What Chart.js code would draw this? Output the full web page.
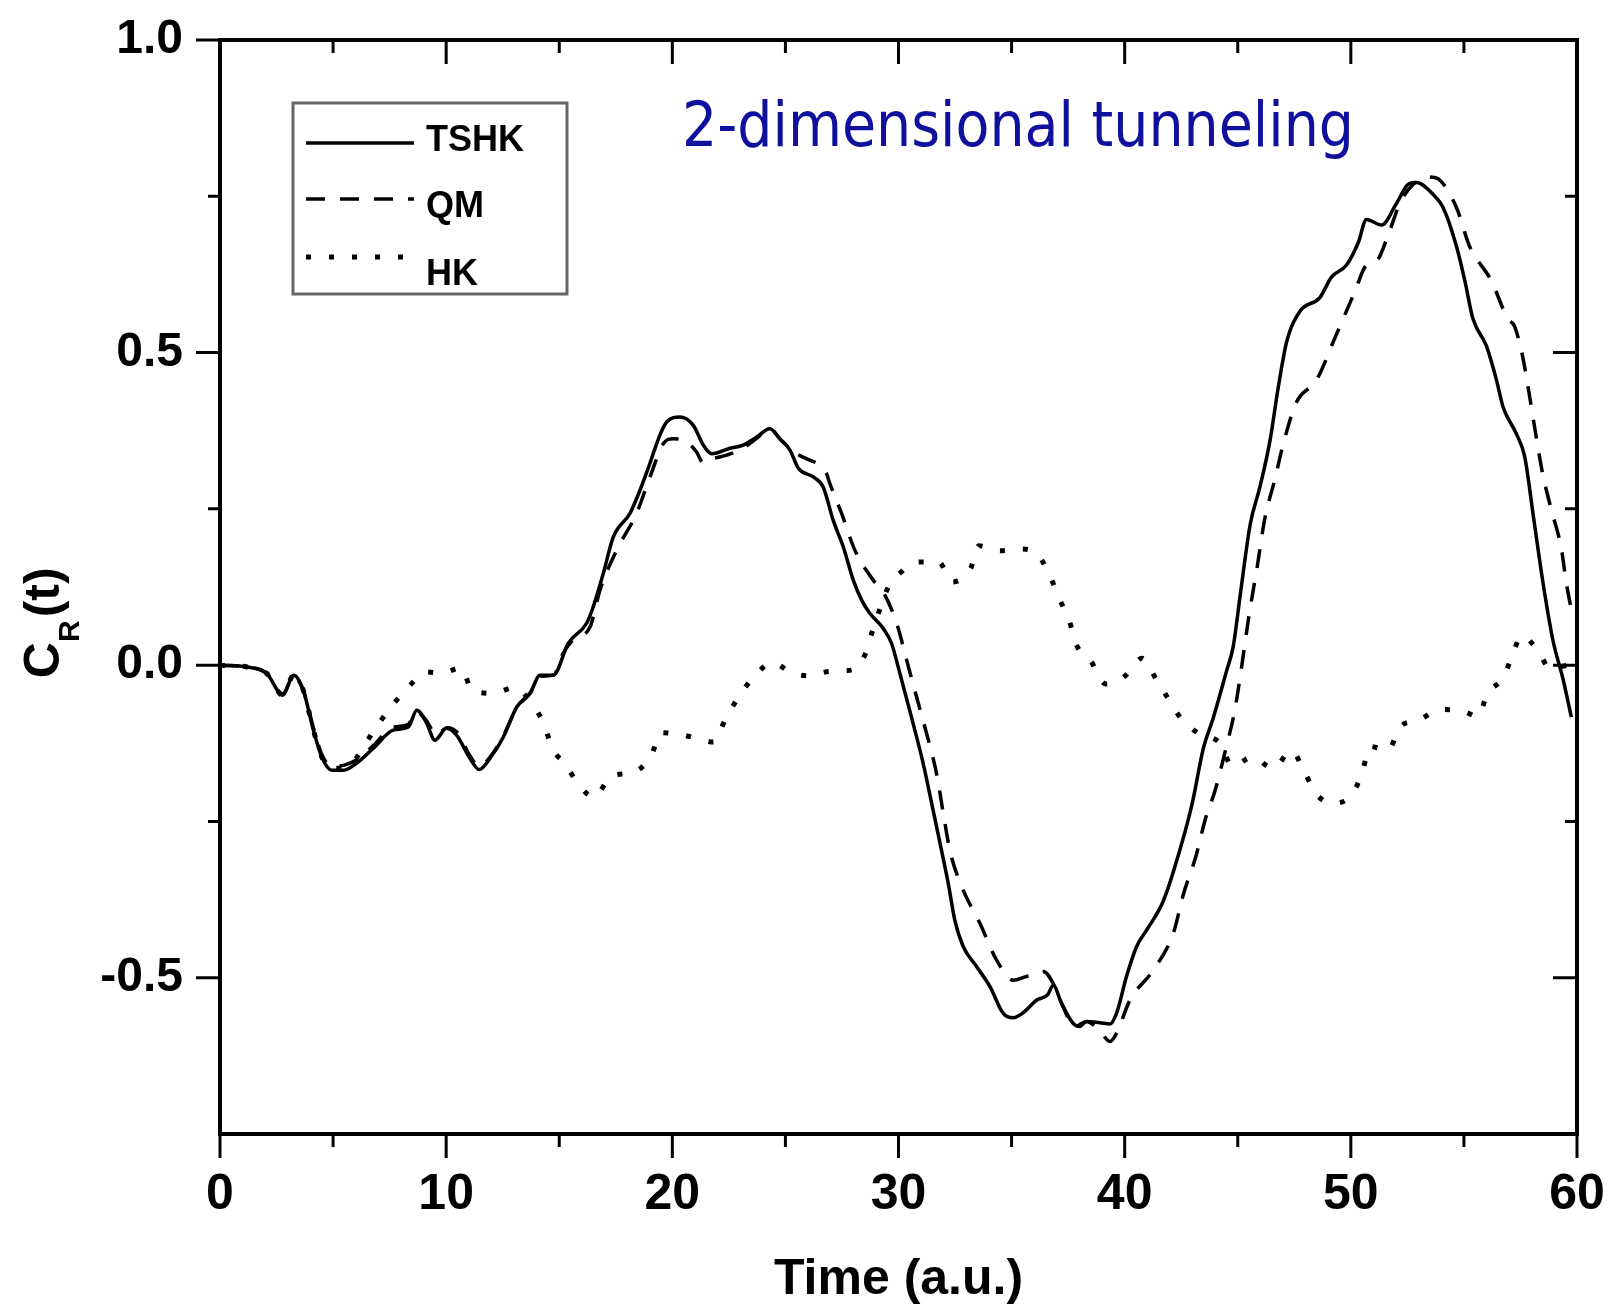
<!DOCTYPE html>
<html><head><meta charset="utf-8">
<script src="https://cdn.jsdelivr.net/npm/chart.js@4"></script>
<style>html,body{margin:0;padding:0;background:#fff}canvas{display:block}</style>
</head><body>
<canvas id="c" width="1614" height="1311" style="width:1614px;height:1311px"></canvas>
<script>
// ---------- data ----------
const seriesNames = ['TSHK', 'QM', 'HK'];

const tshkT = [0,1.2,2.06,2.77,3.26,3.68,4.13,4.5,4.94,5.45,6.04,6.78,7.66,8.33,8.7,9.14,9.5,10.02,10.46,11.05,11.46,11.94,12.53,13.12,13.71,14.15,14.74,15.4,16.21,16.5,16.95,17.39,18.13,18.57,19.01,19.45,19.75,20.34,20.92,21.37,21.74,22.55,23.13,23.73,24.31,24.76,25.2,25.57,26.23,26.67,27.11,27.56,28.0,28.37,28.73,29.32,29.69,30.06,30.55,31.09,31.53,31.9,32.2,32.49,32.86,33.45,34.04,34.63,35.07,35.51,36.1,36.6,36.84,37.21,37.72,38.0,38.31,38.9,39.35,39.64,40.08,40.53,40.97,41.7,42.2,42.97,43.48,43.92,44.5,44.8,45.12,45.55,45.98,46.42,46.79,47.16,47.75,48.63,49.15,49.81,50.33,50.69,51.36,52.01,52.53,52.9,53.64,54.08,54.67,55.04,55.4,55.99,56.44,56.73,57.32,57.69,58.06,58.5,58.94,59.38,59.75];
const tshkV = [0,-0.003,-0.013,-0.048,-0.016,-0.04,-0.104,-0.147,-0.168,-0.168,-0.157,-0.133,-0.104,-0.099,-0.072,-0.093,-0.12,-0.101,-0.112,-0.149,-0.167,-0.149,-0.115,-0.067,-0.045,-0.016,-0.016,0.035,0.067,0.093,0.147,0.205,0.243,0.28,0.323,0.368,0.389,0.397,0.384,0.352,0.338,0.347,0.352,0.365,0.378,0.362,0.344,0.315,0.301,0.285,0.232,0.189,0.136,0.104,0.083,0.059,0.035,-0.013,-0.08,-0.157,-0.232,-0.296,-0.349,-0.408,-0.45,-0.482,-0.514,-0.557,-0.564,-0.556,-0.536,-0.527,-0.512,-0.541,-0.573,-0.578,-0.57,-0.572,-0.574,-0.557,-0.498,-0.45,-0.424,-0.378,-0.325,-0.224,-0.133,-0.084,-0.01,0.03,0.115,0.225,0.285,0.358,0.444,0.517,0.566,0.588,0.621,0.64,0.676,0.713,0.704,0.738,0.769,0.772,0.753,0.732,0.67,0.615,0.554,0.511,0.456,0.413,0.37,0.333,0.241,0.131,0.039,-0.022,-0.083];

const qmT = [0,1.2,2.06,2.77,3.26,3.68,4.13,4.5,4.94,5.5,6.1,6.8,7.6,8.3,8.7,9.15,9.55,10.05,10.5,11.05,11.46,11.94,12.53,13.12,13.71,14.15,14.74,15.17,15.6,16.36,16.8,17.54,18.42,19.01,19.6,20.04,20.5,21.07,21.37,21.8,22.4,22.99,23.7,24.31,24.8,25.5,25.94,26.5,26.82,26.97,27.48,28.07,28.88,29.32,29.92,30.36,30.8,31.24,31.68,31.98,32.27,32.79,33.6,34.34,35.07,35.66,35.95,36.4,36.91,37.21,37.8,38.31,38.9,39.35,39.64,40.23,41.26,42.15,42.61,43.14,43.57,44.0,44.52,44.87,45.15,45.5,45.85,46.2,46.64,47.0,47.59,48.48,49.29,50.17,50.69,51.13,51.72,52.16,52.75,53.49,53.86,54.67,55.25,56.21,56.94,57.24,57.6,57.9,58.2,58.5,58.87,59.31,59.53,59.82];
const qmV = [0,-0.003,-0.013,-0.046,-0.018,-0.04,-0.1,-0.143,-0.162,-0.16,-0.15,-0.128,-0.1,-0.095,-0.075,-0.09,-0.112,-0.1,-0.108,-0.145,-0.162,-0.147,-0.113,-0.068,-0.045,-0.018,-0.016,0.019,0.04,0.061,0.12,0.184,0.243,0.301,0.354,0.362,0.36,0.341,0.323,0.33,0.336,0.344,0.362,0.378,0.36,0.338,0.33,0.32,0.306,0.29,0.243,0.184,0.136,0.117,0.067,0.008,-0.051,-0.109,-0.173,-0.237,-0.296,-0.354,-0.413,-0.472,-0.504,-0.498,-0.496,-0.49,-0.514,-0.541,-0.578,-0.57,-0.585,-0.602,-0.589,-0.536,-0.488,-0.429,-0.365,-0.307,-0.246,-0.2,-0.127,-0.072,-0.008,0.08,0.155,0.235,0.297,0.352,0.42,0.456,0.523,0.597,0.64,0.646,0.695,0.738,0.769,0.781,0.778,0.732,0.67,0.615,0.554,0.542,0.493,0.431,0.364,0.303,0.248,0.186,0.131,0.076];

const hkT = [0,1.2,2.06,2.77,3.26,3.68,4.13,4.5,4.94,5.45,6.0,6.38,7.07,7.74,8.43,9.09,9.83,10.64,11.17,12.08,13.0,13.78,14.34,14.69,15.28,15.87,16.55,17.31,18.23,19.08,19.48,20.36,21.17,21.81,22.33,22.91,23.6,24.42,25.31,26.01,26.97,27.92,28.55,28.85,29.2,29.55,30.06,30.92,31.78,32.37,33.19,33.55,34.51,35.33,36.17,36.7,37.13,37.56,37.86,38.51,39.16,39.99,40.77,41.37,41.93,42.53,43.31,44.18,44.78,45.64,46.56,47.38,47.95,48.47,49.2,50.14,50.55,50.84,51.67,52.14,53.0,53.95,54.9,55.63,56.03,56.76,57.12,57.56,58.29,58.8,59.6];
const hkV = [0,-0.003,-0.013,-0.048,-0.016,-0.04,-0.104,-0.147,-0.165,-0.165,-0.15,-0.128,-0.091,-0.059,-0.031,-0.011,-0.013,-0.004,-0.041,-0.045,-0.036,-0.061,-0.096,-0.133,-0.159,-0.192,-0.211,-0.177,-0.172,-0.144,-0.108,-0.111,-0.118,-0.123,-0.088,-0.052,-0.019,0.004,-0.013,-0.017,-0.01,-0.008,0.019,0.055,0.092,0.125,0.147,0.165,0.165,0.133,0.155,0.191,0.183,0.186,0.176,0.142,0.105,0.07,0.033,0.006,-0.03,-0.018,0.011,-0.021,-0.054,-0.087,-0.11,-0.124,-0.162,-0.147,-0.165,-0.137,-0.171,-0.206,-0.221,-0.202,-0.165,-0.13,-0.136,-0.1,-0.088,-0.071,-0.073,-0.082,-0.046,-0.019,0.014,0.047,0.022,-0.005,0.0];

const xTickLabels = [0, 10, 20, 30, 40, 50, 60];
const xTickMarks = [0, 5, 10, 15, 20, 25, 30, 35, 40, 45, 50, 55, 60];
const yTickLabels = [-0.5, 0.0, 0.5, 1.0];
const yTickMarks = [-0.5, -0.25, 0, 0.25, 0.5, 0.75, 1.0];
const titleText = '2-dimensional tunneling';
const xAxisTitle = 'Time (a.u.)';
const yAxisMain = 'C', yAxisSub = 'R', yAxisTail = '(t)';

// ---------- rendering ----------
const FONT = '"Liberation Sans", Arial, Helvetica, sans-serif';
const toPts = (T, V) => T.map((t, i) => ({x: t, y: V[i]}));

const decor = {
  id: 'decor',
  afterDatasetsDraw(chart) {
    const {ctx, chartArea: a, scales: {x, y}} = chart;
    ctx.save();
    // frame
    ctx.strokeStyle = '#000';
    ctx.lineWidth = 4;
    ctx.strokeRect(a.left, a.top, a.right - a.left, a.bottom - a.top);
    // tick marks: outward on bottom/left, inward on top/right
    ctx.lineWidth = 3;
    ctx.beginPath();
    xTickMarks.forEach(t => {
      const px = x.getPixelForValue(t);
      const L = xTickLabels.includes(t) ? 24 : 13;
      ctx.moveTo(px, a.bottom); ctx.lineTo(px, a.bottom + L);
      ctx.moveTo(px, a.top); ctx.lineTo(px, a.top + L);
    });
    yTickMarks.forEach(v => {
      const py = y.getPixelForValue(v);
      const L = yTickLabels.some(l => Math.abs(l - v) < 1e-9) ? 24 : 12;
      ctx.moveTo(a.left, py); ctx.lineTo(a.left - L, py);
      ctx.moveTo(a.right, py); ctx.lineTo(a.right - L, py);
    });
    ctx.stroke();

    // legend box
    const bx = a.left + 73, by = a.top + 63, bw = 274, bh = 191;
    ctx.strokeStyle = '#666';
    ctx.lineWidth = 3;
    ctx.strokeRect(bx, by, bw, bh);
    const rowLine = [103, 159, 217];
    const rowText = [111, 177, 245];
    ctx.font = 'bold 36px ' + FONT;
    ctx.textBaseline = 'alphabetic';
    ctx.textAlign = 'left';
    chart.data.datasets.forEach((ds, i) => {
      ctx.save();
      ctx.strokeStyle = ds.borderColor;
      ctx.lineWidth = ds.borderWidth;
      ctx.setLineDash(ds.borderDash || []);
      ctx.beginPath();
      ctx.moveTo(a.left + 86, a.top + rowLine[i]);
      ctx.lineTo(a.left + 194, a.top + rowLine[i]);
      ctx.stroke();
      ctx.restore();
      ctx.fillStyle = '#000';
      ctx.fillText(ds.label, a.left + 206, a.top + rowText[i]);
    });

    // in-plot title
    ctx.font = '62px "DejaVu Sans", Verdana, sans-serif';
    ctx.fillStyle = '#10109e';
    const w = ctx.measureText(titleText).width;
    ctx.save();
    ctx.translate(a.left + 462, a.top + 106);
    ctx.scale(672 / w, 1);
    ctx.fillText(titleText, 0, 0);
    ctx.restore();

    // y-axis label C_R(t)
    ctx.save();
    ctx.fillStyle = '#000';
    ctx.translate(59, y.getPixelForValue(0) + 13);
    ctx.rotate(-Math.PI / 2);
    ctx.font = 'bold 50px ' + FONT;
    ctx.fillText(yAxisMain, 0, 0);
    let cx = ctx.measureText(yAxisMain).width;
    ctx.font = 'bold 30px ' + FONT;
    ctx.fillText(yAxisSub, cx, 20);
    cx += ctx.measureText(yAxisSub).width + 3;
    ctx.font = 'bold 50px ' + FONT;
    ctx.fillText(yAxisTail, cx, 0);
    ctx.restore();

    ctx.restore();
  }
};

new Chart(document.getElementById('c'), {
  type: 'line',
  data: {
    datasets: [
      {label: seriesNames[0], data: toPts(tshkT, tshkV), borderColor: '#000', borderWidth: 3.5, pointRadius: 0, fill: false, cubicInterpolationMode: 'monotone'},
      {label: seriesNames[1], data: toPts(qmT, qmV), borderColor: '#000', borderWidth: 3.5, borderDash: [19, 15], pointRadius: 0, fill: false, cubicInterpolationMode: 'monotone'},
      {label: seriesNames[2], data: toPts(hkT, hkV), borderColor: '#000', borderWidth: 5, borderDash: [5, 18], pointRadius: 0, fill: false, cubicInterpolationMode: 'monotone'}
    ]
  },
  options: {
    responsive: false,
    animation: false,
    devicePixelRatio: 1,
    layout: {padding: {left: 0, top: 40, right: 37, bottom: 0}},
    plugins: {legend: {display: false}, title: {display: false}, tooltip: {enabled: false}},
    scales: {
      x: {
        type: 'linear', min: 0, max: 60,
        grid: {display: false},
        border: {display: false},
        afterBuildTicks: s => { s.ticks = xTickLabels.map(v => ({value: v})); },
        afterFit: s => { s.height = 177; s.paddingLeft = 0; s.paddingRight = 0; },
        ticks: {color: '#000', padding: 23, maxRotation: 0, autoSkip: false,
                font: {family: FONT, size: 50, weight: 'bold'}},
        title: {display: true, text: xAxisTitle, color: '#000', padding: {top: 0, bottom: 1},
                font: {family: FONT, size: 50, weight: 'bold'}}
      },
      y: {
        type: 'linear', min: -0.75, max: 1.0,
        grid: {display: false},
        border: {display: false},
        afterBuildTicks: s => { s.ticks = yTickLabels.map(v => ({value: v})); },
        afterFit: s => { s.width = 220; s.paddingTop = 0; s.paddingBottom = 0; },
        ticks: {color: '#000', padding: 29, autoSkip: false,
                callback: v => Number(v).toFixed(1),
                font: {family: FONT, size: 48, weight: 'bold'}}
      }
    }
  },
  plugins: [decor]
});
</script>
</body></html>
